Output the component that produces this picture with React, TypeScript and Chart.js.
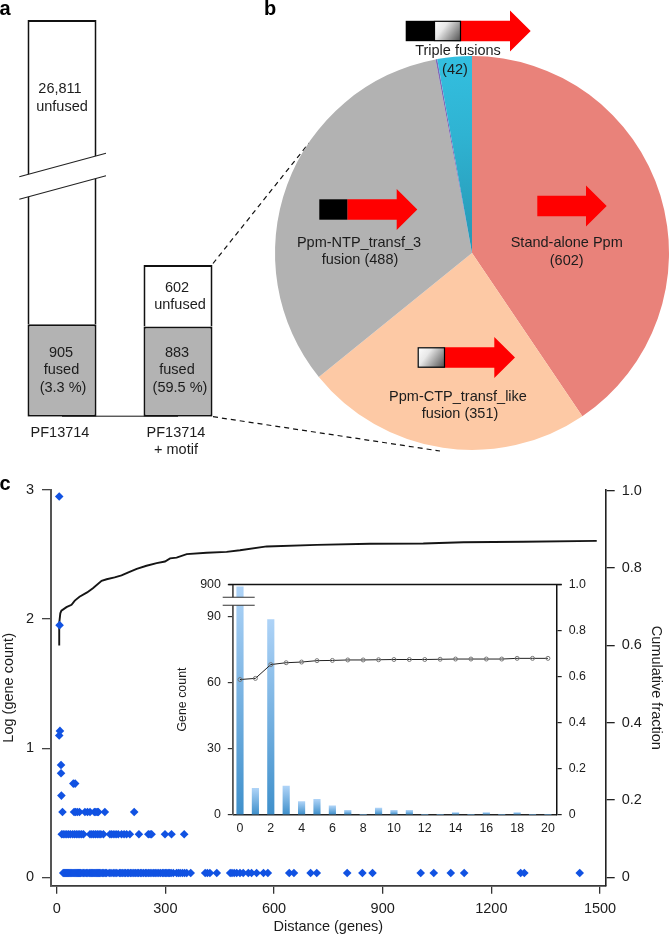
import React, { useEffect, useRef } from "react";
import { Chart, registerables, LinearScale } from "chart.js";

// ---------- data ----------
const barCategories = ["PF13714", ["PF13714", "+ motif"]];
const fusedCounts = [905, 883];
const unfusedCounts = [26811, 602];

const pieLabels = ["Stand-alone Ppm", "Ppm-CTP_transf_like fusion", "Ppm-NTP_transf_3 fusion", "Other", "Triple fusions"];
const pieCounts = [602, 351, 488, 2, 42];

const logCountLevels = [0.033, 0.333, 0.506, 0.633, 0.726, 0.806, 0.87, 1.098, 1.134, 1.953, 2.95];
const distanceRow0 = [18, 21, 24, 27, 30, 33, 36, 39, 42, 45, 48, 51, 54, 57, 60, 63, 66, 70, 74, 78, 82, 86, 90, 94, 97, 100, 103, 106, 109, 112, 115, 118, 122, 126, 130, 134, 138, 145, 150, 156, 161, 166, 173, 177, 181, 186, 190, 195, 199, 204, 208, 213, 217, 222, 226, 231, 235, 240, 245, 249, 254, 258, 263, 268, 272, 277, 282, 287, 292, 296, 300, 304, 308, 312, 316, 322, 331, 336, 341, 347, 353, 359, 370, 410, 416, 423, 442, 479, 484, 490, 497, 506, 515, 529, 538, 552, 571, 583, 642, 655, 701, 718, 802, 844, 872, 1005, 1041, 1088, 1125, 1281, 1291, 1444];
const distanceRow1 = [14, 18, 23, 28, 33, 38, 44, 49, 54, 59, 64, 69, 74, 92, 97, 102, 107, 112, 117, 122, 129, 147, 152, 158, 164, 170, 179, 186, 193, 202, 227, 253, 258, 262, 299, 317, 352];
const distanceRow2 = [16, 48, 52, 57, 63, 78, 85, 92, 104, 108, 112, 115, 133, 214];
const distanceRow3 = [13];
const distanceRow4 = [46, 51];
const distanceRow5 = [12];
const distanceRow6 = [12];
const distanceRow7 = [7];
const distanceRow8 = [9];
const distanceRow9 = [8];
const distanceRow10 = [7];
const distanceRows = [distanceRow0, distanceRow1, distanceRow2, distanceRow3, distanceRow4, distanceRow5, distanceRow6, distanceRow7, distanceRow8, distanceRow9, distanceRow10];

const cdfDistance = [7, 7, 10, 13, 27, 41, 50, 63, 84, 100, 124, 138, 160, 179, 198, 221, 248, 276, 299, 313, 331, 359, 414, 469, 506, 580, 718, 865, 1012, 1123, 1288, 1491];
const cdfFraction = [0.5995, 0.6575, 0.683, 0.69, 0.699, 0.705, 0.716, 0.726, 0.737, 0.748, 0.767, 0.771, 0.776, 0.781, 0.789, 0.798, 0.806, 0.813, 0.817, 0.825, 0.827, 0.836, 0.8395, 0.842, 0.846, 0.856, 0.86, 0.863, 0.8635, 0.867, 0.868, 0.8705];

const mainXTicks = [0, 300, 600, 900, 1200, 1500];
const mainYTicks = [0, 1, 2, 3];
const fractionTicks = [0, 0.2, 0.4, 0.6, 0.8, 1];

const insetDistance = [0, 1, 2, 3, 4, 5, 6, 7, 8, 9, 10, 11, 12, 13, 14, 15, 16, 17, 18, 19, 20];
const insetCounts = [881, 12, 88.5, 13, 6, 7, 4, 2, 0, 3, 2, 2, 0, 0, 1, 0, 1, 0, 1, 0, 0];
const insetFraction = [0.587, 0.592, 0.652, 0.66, 0.663, 0.669, 0.67, 0.672, 0.672, 0.673, 0.674, 0.674, 0.674, 0.675, 0.676, 0.676, 0.676, 0.676, 0.679, 0.679, 0.679];
const insetXTicks = [0, 2, 4, 6, 8, 10, 12, 14, 16, 18, 20];
const insetYTicks = [0, 30, 60, 90, 900];

// ---------- broken axis scale ----------
const FONT = '"Liberation Sans", Arial, sans-serif';
const INK = "#1c1c1c";
const BODY_SIZE = 14.5;
const knotTables: any = {
  panelA: [[0, 0], [2200, 0.5664], [25000, 0.6344], [27716, 1]],
  inset: [[0, 0], [95, 0.9097], [800, 0.9444], [900, 1]],
};

class BrokenScale extends (LinearScale as any) {
  static id = "broken";
  static defaults = (LinearScale as any).defaults;
  getPixelForValue(v: number) {
    const k = knotTables[(this as any).options.knotTable];
    let frac = 1;
    for (let i = 1; i < k.length; i++) {
      if (v <= k[i][0]) {
        frac = k[i - 1][1] + ((v - k[i - 1][0]) / (k[i][0] - k[i - 1][0])) * (k[i][1] - k[i - 1][1]);
        break;
      }
    }
    return (this as any).getPixelForDecimal(frac);
  }
  getValueForPixel(p: number) {
    const k = knotTables[(this as any).options.knotTable];
    const f = (this as any).getDecimalForPixel(p);
    for (let i = 1; i < k.length; i++) {
      if (f <= k[i][1]) {
        return k[i - 1][0] + ((f - k[i - 1][1]) / (k[i][1] - k[i - 1][1])) * (k[i][0] - k[i - 1][0]);
      }
    }
    return k[k.length - 1][0];
  }
}

Chart.register(...registerables, BrokenScale as any);
Chart.defaults.font.family = FONT;
Chart.defaults.font.size = BODY_SIZE;
Chart.defaults.color = INK;
Chart.defaults.animation = false as any;

function drawText(ctx: any, text: string, x: number, y: number, font = `${BODY_SIZE}px ${FONT}`, color = INK) {
  ctx.save();
  ctx.font = font;
  ctx.fillStyle = color;
  ctx.textAlign = "center";
  ctx.textBaseline = "middle";
  ctx.fillText(text, x, y);
  ctx.restore();
}

const LETTER_FONT = `bold 20px ${FONT}`;

// ---------- panel a ----------
const panelATexts: any[] = [
  ["26,811", 60, 89], ["unfused", 62, 107],
  ["905", 61, 353], ["fused", 61.5, 370], ["(3.3 %)", 63, 388],
  ["602", 177, 288], ["unfused", 180, 305],
  ["883", 177, 353], ["fused", 177, 370], ["(59.5 %)", 180, 388],
];

const panelAPlugin = {
  id: "panelA",
  afterDatasetsDraw(chart: any) {
    const { ctx, scales } = chart;
    const base = scales.y.getPixelForValue(0);
    const meta = chart.getDatasetMeta(0).data;
    ctx.save();
    // baseline between the two bars
    ctx.strokeStyle = "#111";
    ctx.lineWidth = 1;
    ctx.beginPath();
    ctx.moveTo(meta[0].x, base - 0.5);
    ctx.lineTo(meta[1].x, base - 0.5);
    ctx.stroke();
    // slanted axis break
    ctx.fillStyle = "#fff";
    ctx.beginPath();
    ctx.moveTo(19.3, 176.7);
    ctx.lineTo(106, 153.3);
    ctx.lineTo(106, 175.7);
    ctx.lineTo(19.3, 199.3);
    ctx.closePath();
    ctx.fill();
    ctx.strokeStyle = "#222";
    ctx.lineWidth = 1.1;
    ctx.beginPath();
    ctx.moveTo(19.3, 176.7);
    ctx.lineTo(106, 153.3);
    ctx.moveTo(19.3, 199.3);
    ctx.lineTo(106, 175.7);
    ctx.stroke();
    // dashed zoom lines
    ctx.strokeStyle = "#111";
    ctx.lineWidth = 1.2;
    ctx.setLineDash([5, 4]);
    ctx.beginPath();
    ctx.moveTo(213, 263.5);
    ctx.lineTo(309, 143);
    ctx.moveTo(213, 416.7);
    ctx.lineTo(440, 451);
    ctx.stroke();
    ctx.restore();
    panelATexts.forEach(([t, x, y]) => drawText(ctx, t, x, y));
    drawText(ctx, "a", 5, 9, LETTER_FONT, "#000");
    drawText(ctx, "b", 270, 9, LETTER_FONT, "#000");
  },
};

// ---------- panel b ----------
const pieTexts: any[] = [
  ["Triple fusions", 458, 51], ["(42)", 455, 70],
  ["Ppm-NTP_transf_3", 359, 243], ["fusion (488)", 360, 260],
  ["Stand-alone Ppm", 566.7, 243], ["(602)", 566.7, 261],
  ["Ppm-CTP_transf_like", 458, 396.7], ["fusion (351)", 460, 414],
];
const geneArrows: any[] = [
  { shaft: 537.3, head: 586, tip: 606.7, y: 206 },
  { black: 319.3, shaft: 347.3, head: 396.7, tip: 417.3, y: 209.5 },
  { black: 405.7, grad: 434, shaft: 461, head: 510, tip: 530.7, y: 31 },
  { grad: 417.7, shaft: 445, head: 494.3, tip: 515, y: 357.5 },
];

const piePlugin = {
  id: "pieNotes",
  afterDatasetsDraw(chart: any) {
    const ctx = chart.ctx;
    const ox = chart.canvas.offsetLeft;
    const oy = chart.canvas.offsetTop;
    ctx.save();
    ctx.translate(-ox, -oy);
    geneArrows.forEach((a) => {
      const halfShaft = 10.2;
      const halfHead = 20.4;
      ctx.fillStyle = "#ff0000";
      ctx.beginPath();
      ctx.moveTo(a.shaft, a.y - halfShaft);
      ctx.lineTo(a.head, a.y - halfShaft);
      ctx.lineTo(a.head, a.y - halfHead);
      ctx.lineTo(a.tip, a.y);
      ctx.lineTo(a.head, a.y + halfHead);
      ctx.lineTo(a.head, a.y + halfShaft);
      ctx.lineTo(a.shaft, a.y + halfShaft);
      ctx.closePath();
      ctx.fill();
      if (a.black !== undefined) {
        const end = a.grad !== undefined ? a.grad : a.shaft;
        ctx.fillStyle = "#000";
        ctx.fillRect(a.black, a.y - halfShaft, end - a.black, halfShaft * 2);
      }
      if (a.grad !== undefined) {
        const g = ctx.createLinearGradient(a.grad, a.y - halfShaft, a.shaft, a.y + halfShaft);
        g.addColorStop(0, "#ffffff");
        g.addColorStop(0.35, "#e8e8e8");
        g.addColorStop(1, "#4a4a4a");
        ctx.fillStyle = g;
        ctx.fillRect(a.grad, a.y - halfShaft, a.shaft - a.grad, halfShaft * 2);
        ctx.strokeStyle = "#000";
        ctx.lineWidth = 1.2;
        ctx.strokeRect(a.grad + 0.5, a.y - halfShaft + 0.5, a.shaft - a.grad - 1, halfShaft * 2 - 1);
      }
    });
    pieTexts.forEach(([t, x, y]) => drawText(ctx, t, x, y));
    ctx.restore();
  },
};

const sliceColors = ["#e9827a", "#fdc9a5", "#b2b2b2", "#8169b5"];
function sliceColor(c: any) {
  if (c.dataIndex < sliceColors.length) return sliceColors[c.dataIndex];
  const area = c.chart.chartArea;
  if (!area) return "#2fbad8";
  const cx = (area.left + area.right) / 2;
  const cy = (area.top + area.bottom) / 2;
  const g = c.chart.ctx.createRadialGradient(cx, cy, 0, cx, cy, (area.bottom - area.top) / 2);
  g.addColorStop(0, "#2796b3");
  g.addColorStop(0.6, "#2fb3d2");
  g.addColorStop(1, "#33bfe0");
  return g;
}

// ---------- panel c ----------
const fractionLabel = (v: number) => (v === 0 ? "0" : v.toFixed(1));
const setTicks = (values: number[]) => (s: any) => {
  s.ticks = values.map((value) => ({ value }));
};

const mainPlugin = {
  id: "mainNotes",
  afterDatasetsDraw(chart: any) {
    drawText(chart.ctx, "c", 5, 14, LETTER_FONT, "#000");
  },
};

const insetPlugin = {
  id: "insetNotes",
  afterDatasetsDraw(chart: any) {
    const { ctx, chartArea, scales } = chart;
    const lo = scales.y.getPixelForValue(95);
    const hi = scales.y.getPixelForValue(800);
    const l = chartArea.left - 10.6;
    const r = chartArea.left + 21.4;
    ctx.save();
    ctx.fillStyle = "#fff";
    ctx.fillRect(l, hi, r - l, lo - hi);
    ctx.strokeStyle = "#333";
    ctx.lineWidth = 1.2;
    ctx.beginPath();
    ctx.moveTo(l, lo);
    ctx.lineTo(r, lo);
    ctx.moveTo(l, hi);
    ctx.lineTo(r, hi);
    ctx.stroke();
    ctx.strokeStyle = "#111";
    ctx.lineWidth = 1.5;
    ctx.beginPath();
    ctx.moveTo(chartArea.left - 5, chartArea.top);
    ctx.lineTo(chartArea.right + 5, chartArea.top);
    ctx.stroke();
    ctx.restore();
  },
};

function barGradient(c: any) {
  const { chart } = c;
  if (!chart.chartArea || !c.raw) return "#6aaee2";
  const top = chart.scales.y.getPixelForValue(c.raw.y);
  const bottom = chart.scales.y.getPixelForValue(0);
  if (bottom - top < 0.5) return "#6aaee2";
  const g = chart.ctx.createLinearGradient(0, top, 0, bottom);
  g.addColorStop(0, "#aed3f7");
  g.addColorStop(1, "#3f90cb");
  return g;
}

// ---------- component ----------
export default function App() {
  const aRef = useRef<HTMLCanvasElement>(null);
  const bRef = useRef<HTMLCanvasElement>(null);
  const cRef = useRef<HTMLCanvasElement>(null);
  const dRef = useRef<HTMLCanvasElement>(null);

  useEffect(() => {
    const common = { responsive: false, animation: false as any, devicePixelRatio: 1, events: [] as any[] };
    const charts: any[] = [];

    charts.push(
      new Chart(aRef.current as any, {
        type: "bar",
        data: {
          labels: barCategories as any,
          datasets: [
            { label: "fused", data: fusedCounts, backgroundColor: "#b3b3b3", borderColor: "#111", borderWidth: 2, borderSkipped: false, stack: "s" },
            { label: "unfused", data: unfusedCounts, backgroundColor: "#ffffff", borderColor: "#111", borderWidth: 2, borderSkipped: "bottom", stack: "s" },
          ],
        },
        options: {
          ...common,
          categoryPercentage: 1,
          barPercentage: 0.595,
          layout: { padding: { left: 4, right: 434, top: 20, bottom: 0 } },
          plugins: { legend: { display: false }, tooltip: { enabled: false } },
          scales: {
            x: {
              stacked: true,
              border: { display: false },
              grid: { display: false },
              ticks: { padding: -1, labelOffset: -2, maxRotation: 0, autoSkip: false, font: { size: BODY_SIZE, lineHeight: 1.23 } },
              afterFit: (s: any) => { s.height = 53.3; },
            },
            y: { type: "broken", knotTable: "panelA", stacked: true, display: false, min: 0, max: 27716 } as any,
          },
        } as any,
        plugins: [panelAPlugin],
      })
    );

    charts.push(
      new Chart(bRef.current as any, {
        type: "pie",
        data: {
          labels: pieLabels,
          datasets: [{ data: pieCounts, backgroundColor: sliceColor as any, borderWidth: 0 }],
        },
        options: {
          ...common,
          layout: { padding: { left: 45, right: 1, top: 56, bottom: 20 } },
          plugins: { legend: { display: false }, tooltip: { enabled: false } },
        } as any,
        plugins: [piePlugin],
      })
    );

    charts.push(
      new Chart(cRef.current as any, {
        type: "scatter",
        data: {
          datasets: [
            {
              label: "gene count",
              data: distanceRows.flatMap((row, i) => row.map((x) => ({ x, y: logCountLevels[i] }))),
              yAxisID: "y",
              backgroundColor: "#1152e2",
              borderWidth: 0,
              pointStyle: "rectRot",
              pointRadius: 4.3,
              order: 1,
            },
            {
              label: "cumulative fraction",
              data: cdfDistance.map((x, i) => ({ x, y: cdfFraction[i] })),
              yAxisID: "y1",
              showLine: true,
              borderColor: "#151515",
              borderWidth: 1.9,
              pointRadius: 0,
              tension: 0,
              order: 2,
            },
          ],
        },
        options: {
          ...common,
          layout: { padding: { top: 20, left: 0, right: 0, bottom: 0 } },
          plugins: { legend: { display: false }, tooltip: { enabled: false } },
          scales: {
            x: {
              type: "linear",
              min: -15.7,
              max: 1515.7,
              border: { display: true, color: "#3a3a3a", width: 1.8 },
              grid: { drawOnChartArea: false, drawTicks: true, tickLength: 8, color: "#333", lineWidth: 1.3 },
              ticks: { padding: 7, maxRotation: 0, autoSkip: false, callback: (v: any) => String(v) },
              afterBuildTicks: setTicks(mainXTicks),
              title: { display: true, text: "Distance (genes)", padding: 0, font: { size: BODY_SIZE } },
              afterFit: (s: any) => { s.height = 50.3; },
            },
            y: {
              type: "linear",
              position: "left",
              min: -0.065,
              max: 3,
              border: { display: true, color: "#555", width: 2 },
              grid: { drawOnChartArea: false, drawTicks: true, tickLength: 9, color: "#444", lineWidth: 1.3 },
              ticks: { padding: 8, autoSkip: false, callback: (v: any) => String(v) },
              afterBuildTicks: setTicks(mainYTicks),
              title: { display: true, text: "Log (gene count)", padding: 0, font: { size: BODY_SIZE } },
              afterFit: (s: any) => { s.width = 51; },
            },
            y1: {
              type: "linear",
              position: "right",
              min: -0.0217,
              max: 1.002,
              border: { display: true, color: "#222", width: 1.6 },
              grid: { drawOnChartArea: false, drawTicks: true, tickLength: 9, color: "#222", lineWidth: 1.3 },
              ticks: { padding: 7, autoSkip: false, callback: fractionLabel as any },
              afterBuildTicks: setTicks(fractionTicks),
              title: { display: true, text: "Cumulative fraction", padding: 5.6, font: { size: BODY_SIZE } },
              afterFit: (s: any) => { s.width = 64.3; },
            },
          },
        } as any,
        plugins: [mainPlugin],
      })
    );

    charts.push(
      new Chart(dRef.current as any, {
        type: "bar",
        data: {
          datasets: [
            {
              type: "line",
              label: "inset fraction",
              data: insetDistance.map((x, i) => ({ x, y: insetFraction[i] })),
              yAxisID: "y1",
              borderColor: "#222",
              borderWidth: 1,
              pointRadius: 2,
              pointBackgroundColor: "rgba(255,255,255,0)",
              pointBorderColor: "#777",
              pointBorderWidth: 1,
              tension: 0,
              order: 1,
            },
            {
              type: "bar",
              label: "inset count",
              data: insetDistance.map((x, i) => ({ x, y: insetCounts[i] })),
              yAxisID: "y",
              backgroundColor: barGradient as any,
              borderWidth: 0,
              barThickness: 6.5,
              order: 2,
            },
          ],
        },
        options: {
          ...common,
          layout: { padding: { top: 11, left: 0, right: 0, bottom: 0 } },
          plugins: { legend: { display: false }, tooltip: { enabled: false } },
          scales: {
            x: {
              type: "linear",
              offset: false,
              min: -0.435,
              max: 20.57,
              border: { display: true, color: "#222", width: 1.4 },
              grid: { display: true, offset: false, drawOnChartArea: false, drawTicks: false, tickLength: 0 },
              ticks: { padding: 6, maxRotation: 0, autoSkip: false, font: { size: 12.4 }, callback: (v: any) => String(v) },
              afterBuildTicks: setTicks(insetXTicks),
              afterFit: (s: any) => { s.height = 35.3; },
            },
            y: {
              type: "broken",
              knotTable: "inset",
              position: "left",
              min: 0,
              max: 900,
              border: { display: true, color: "#555", width: 1.8 },
              grid: { drawOnChartArea: false, drawTicks: true, tickLength: 5.5, color: "#333", lineWidth: 1.2 },
              ticks: { padding: 7, autoSkip: false, font: { size: 12.4 }, callback: (v: any) => String(v) },
              afterBuildTicks: setTicks(insetYTicks),
              title: { display: true, text: "Gene count", padding: 5, font: { size: 12.4 } },
              afterFit: (s: any) => { s.width = 63.3; },
            } as any,
            y1: {
              type: "linear",
              position: "right",
              min: 0,
              max: 1,
              border: { display: true, color: "#111", width: 1.5 },
              grid: { drawOnChartArea: false, drawTicks: true, tickLength: 5, color: "#222", lineWidth: 1.2 },
              ticks: { padding: 7, autoSkip: false, font: { size: 12.4 }, callback: fractionLabel as any },
              afterBuildTicks: setTicks(fractionTicks),
              afterFit: (s: any) => { s.width = 33.3; },
            },
          },
        } as any,
        plugins: [insetPlugin],
      })
    );

    return () => charts.forEach((c) => c.destroy());
  }, []);

  const abs = (left: number, top: number): any => ({ position: "absolute", left, top, display: "block" });
  return (
    <div style={{ position: "absolute", left: 0, top: 0, width: 670, height: 936, background: "#fff", overflow: "hidden" }}>
      <canvas ref={aRef} width={670} height={470} style={abs(0, 0)} />
      <canvas ref={bRef} width={440} height={470} style={abs(230, 0)} />
      <canvas ref={cRef} width={670} height={466} style={abs(0, 470)} />
      <canvas ref={dRef} width={420} height={280} style={abs(170, 570)} />
    </div>
  );
}
